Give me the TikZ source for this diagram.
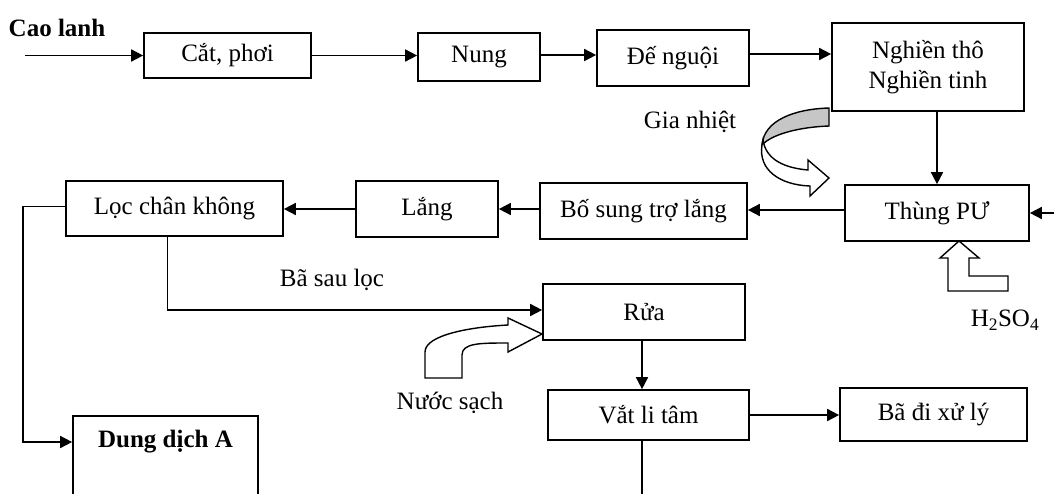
\documentclass[tikz,border=0pt]{standalone}
\usepackage{fontspec}
\setmainfont{Liberation Serif}
\usetikzlibrary{arrows.meta,calc}
\begin{document}
\begin{tikzpicture}[x=1pt,y=-1pt,
  every node/.style={font=\fontsize{25}{30}\selectfont},
  box/.style={draw,line width=1.7pt,inner sep=0pt,align=center},
  arr/.style={line width=1.7pt,-{Triangle[length=12pt,width=12pt]}},
  ln/.style={line width=1.7pt},
  blk/.style={draw,line width=1.4pt,fill=white,line join=miter}]
\useasboundingbox (0,0) rectangle (1054,493);
\clip (0,0) rectangle (1054,493);

% process boxes
\node[box,minimum width=167pt,minimum height=45pt] (cat) at (227.5,55.5) {Cắt, phơi};
\node[box,minimum width=122pt,minimum height=48pt] (nung) at (479,57) {Nung};
\node[box,minimum width=152pt,minimum height=56pt] (denguoi) at (673,58) {Đế nguội};
\node[box,minimum width=192pt,minimum height=88pt] (nghien) at (928,67) {Nghiền thô\\Nghiền tinh};
\node[box,minimum width=184pt,minimum height=56pt] (thung) at (937,213) {Thùng PƯ};
\node[box,minimum width=207pt,minimum height=56pt] (bosung) at (643.5,211) {Bố sung trợ lắng};
\node[box,minimum width=142pt,minimum height=56pt] (lang) at (427,209) {Lắng};
\node[box,minimum width=217pt,minimum height=55pt] (loc) at (174.5,208.5) {Lọc chân không};
\node[box,minimum width=202pt,minimum height=56pt] (rua) at (644,312) {Rửa};
\node[box,minimum width=201pt,minimum height=50pt] (vat) at (648.5,415) {Vắt li tâm};
\node[box,minimum width=187pt,minimum height=53pt] (baxl) at (933.5,414.5) {Bã đi xử lý};
\node[box,minimum width=185pt,minimum height=105pt,anchor=north] (dd) at (165.5,415) {};
\node[font=\fontsize{25}{30}\selectfont\bfseries] (ddtext) at ($(dd.north)+(0,27)$) {Dung dịch A};

% labels
\node[font=\fontsize{25}{30}\selectfont\bfseries] (caolanh) at (57,28) {Cao lanh};
\node (gianhiet) at (690,122) {Gia nhiệt};
\node (basau) at (332,280) {Bã sau lọc};
\node (nuoc) at (450,403) {Nước sạch};
\node (acid) at (1005,320) {H\textsubscript{2}SO\textsubscript{4}};

% free ends
\coordinate (in1) at (25,55.5);
\coordinate (in2) at (1060,213);
\coordinate (ddin) at ($(dd.north west)+(0,27)$);

% connectors
\draw[arr] (in1) -- (cat.west);
\draw[arr] (cat.east) -- (nung.west |- cat.east);
\draw[arr] ($(nung.east)+(0,-2)$) -- ($(nung.east -| denguoi.west)+(0,-2)$);
\draw[arr] ($(denguoi.east)+(0,-4)$) -- ($(denguoi.east -| nghien.west)+(0,-4)$);
\draw[arr] (thung.north |- nghien.south) -- (thung.north);
\draw[arr] (in2) -- (thung.east);
\draw[arr] ($(thung.west)+(0,-3)$) -- ($(thung.west -| bosung.east)+(0,-3)$);
\draw[arr] ($(bosung.west)+(0,-2)$) -- ($(bosung.west -| lang.east)+(0,-2)$);
\draw[arr] (lang.west) -- (lang.west -| loc.east);
\draw[arr] ($(loc.west)+(0,-2)$) -- ++(-42,0) |- (ddin);
\draw[arr] ($(loc.south)+(-7,0)$) |- ($(rua.west)+(0,-2)$);
\draw[arr] ($(rua.south)+(-2,0)$) -- ($(rua.south |- vat.north)+(-2,0)$);
\draw[arr] (vat.east) -- (vat.east -| baxl.west);
\draw[ln] ($(vat.south -| rua.south)+(-2,0)$) -- ++(0,70);

% heating arrow (curved, shaded back face)
\path[blk,fill=gray!45] (829,108) .. controls (795,109) and (764,120) .. (762,145)
  .. controls (772,134) and (800,127) .. (829,126) -- cycle;
\path[blk] (763,140) .. controls (766,160) and (785,168) .. (808,170)
  -- (808,160) -- (829,178) -- (810,196) -- (810,186)
  .. controls (780,185) and (758,170) .. (762,145) -- cycle;

% clean water arrow
\path[blk] (425,378) -- (425,352) .. controls (425,335) and (470,327) .. (508,325)
  -- (508,318) -- (542,334) -- (508,352) -- (508,343)
  .. controls (480,343) and (462,343) .. (462,355) -- (462,378) -- cycle;

% acid inlet arrow
\path[blk] (959,241) -- (979,258) -- (969,258) -- (969,276) -- (1008,276)
  -- (1008,291) -- (948,291) -- (948,258) -- (940,258) -- cycle;
\end{tikzpicture}
\end{document}
